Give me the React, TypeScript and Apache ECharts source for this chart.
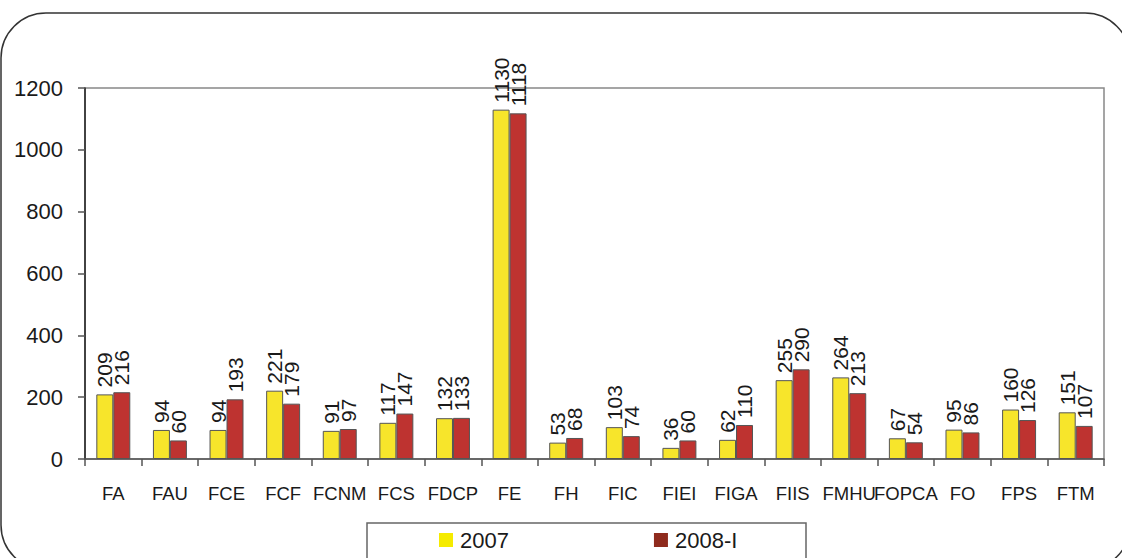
import React, { useEffect, useRef } from "react";
import * as echarts from "echarts";

const categories = ["FA", "FAU", "FCE", "FCF", "FCNM", "FCS", "FDCP", "FE", "FH", "FIC", "FIEI", "FIGA", "FIIS", "FMHU", "FOPCA", "FO", "FPS", "FTM"];
const values2007 = [209, 94, 94, 221, 91, 117, 132, 1130, 53, 103, 36, 62, 255, 264, 67, 95, 160, 151];
const values2008 = [216, 60, 193, 179, 97, 147, 133, 1118, 68, 74, 60, 110, 290, 213, 54, 86, 126, 107];
const seriesNames = ["2007", "2008-I"];
const yTicks = { min: 0, max: 1200, interval: 200 };

const FONT = "'Liberation Sans', Arial, sans-serif";

export default function App() {
  const ref = useRef<HTMLDivElement>(null);
  useEffect(() => {
    if (!ref.current) return;
    const chart = echarts.init(ref.current, null, { renderer: "svg" });
    const label = {
      show: true,
      position: "top",
      rotate: 90,
      align: "left",
      verticalAlign: "middle",
      distance: 7,
      fontSize: 21,
      fontFamily: FONT,
      color: "#1a1a1a",
    };
    chart.setOption({
      animation: false,
      backgroundColor: "#fff",
      grid: { left: 85, right: 18, top: 88, bottom: 99, show: true, borderColor: "#888", borderWidth: 1.5, containLabel: false },
      xAxis: {
        type: "category",
        data: categories,
        boundaryGap: true,
        axisLine: { show: true, lineStyle: { color: "#555", width: 1.5 } },
        axisTick: { show: true, length: 7, lineStyle: { color: "#555", width: 1.5 } },
        axisLabel: { fontSize: 18.5, fontFamily: FONT, color: "#1a1a1a", margin: 25, interval: 0 },
      },
      yAxis: {
        type: "value",
        min: yTicks.min,
        max: yTicks.max,
        interval: yTicks.interval,
        axisLine: { show: true, lineStyle: { color: "#222", width: 1.5 } },
        axisTick: { show: true, length: 7, lineStyle: { color: "#555", width: 1.5 } },
        splitLine: { show: false },
        axisLabel: { fontSize: 22, fontFamily: FONT, color: "#1a1a1a", margin: 22, formatter: (v: number) => String(v) },
      },
      legend: {
        left: 439,
        top: 529,
        padding: 0,
        itemWidth: 14,
        itemHeight: 14,
        itemGap: 145,
        icon: "rect",
        textStyle: { fontSize: 22, fontFamily: FONT, color: "#1a1a1a", padding: [0, 0, 0, 2] },
        data: [
          { name: seriesNames[0], itemStyle: { color: "#F5EB00", borderWidth: 0 } },
          { name: seriesNames[1], itemStyle: { color: "#8F2B1D", borderWidth: 0 } },
        ],
      },
      graphic: [
        {
          type: "rect",
          shape: { x: 1, y: 13, width: 1129, height: 557, r: 45 },
          style: { fill: "none", stroke: "#333", lineWidth: 1.5 },
          silent: true,
          z: -1,
        },
        {
          type: "rect",
          shape: { x: 367, y: 523, width: 439, height: 60 },
          style: { fill: "none", stroke: "#666", lineWidth: 1.5 },
          silent: true,
        },
      ],
      series: [
        {
          name: seriesNames[0],
          type: "bar",
          data: values2007,
          barGap: "0%",
          barCategoryGap: "40%",
          itemStyle: { color: "#F7E52B", borderColor: "#555", borderWidth: 1 },
          label,
        },
        {
          name: seriesNames[1],
          type: "bar",
          data: values2008,
          itemStyle: { color: "#BE3330", borderColor: "#555", borderWidth: 1 },
          label,
        },
      ],
    });
    return () => chart.dispose();
  }, []);
  return <div ref={ref} style={{ width: 1122, height: 558, position: "absolute", left: 0, top: 0 }} />;
}
